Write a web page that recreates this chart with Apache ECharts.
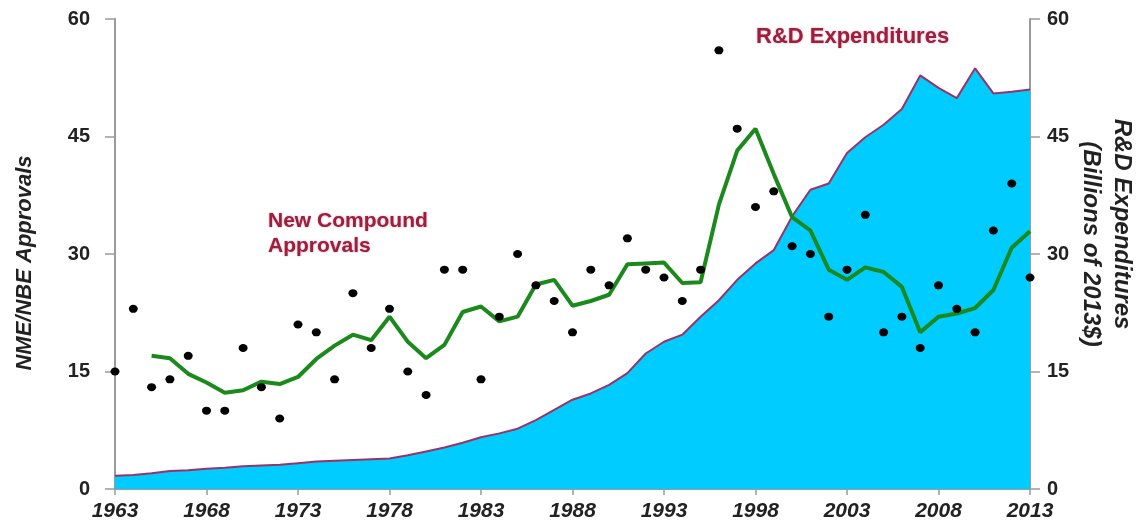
<!DOCTYPE html>
<html>
<head>
<meta charset="utf-8">
<script src="https://cdn.jsdelivr.net/npm/echarts@6/dist/echarts.min.js"></script>
<style>
html,body{margin:0;padding:0;background:#fff;}
#chart{width:1147px;height:523px;}
</style>
</head>
<body>
<div id="chart"></div>
<script>
var years = [];
for (var y = 1963; y <= 2013; y++) years.push(String(y));

var approvals = [15,23,13,14,17,10,10,18,13,9,21,20,14,25,18,23,15,12,28,28,14,22,30,26,24,20,28,26,32,28,27,24,28,56,46,36,38,31,30,22,28,35,20,22,18,26,23,20,33,39,27];

var movingAvg = [null,null,17,16.7,14.7,13.6,12.3,12.6,13.7,13.4,14.3,16.6,18.3,19.7,19,22,18.8,16.7,18.4,22.6,23.3,21.4,22,26.1,26.7,23.4,24,24.8,28.7,28.8,28.9,26.3,26.4,36.3,43.2,46,40.2,34.7,33,28,26.7,28.3,27.7,25.8,20,22,22.4,23.1,25.4,30.8,32.9];

var rdSpend = [1.7,1.8,2.0,2.3,2.4,2.6,2.7,2.9,3.0,3.1,3.3,3.5,3.6,3.7,3.8,3.9,4.3,4.8,5.3,5.9,6.6,7.1,7.7,8.8,10.1,11.4,12.2,13.3,14.8,17.3,18.8,19.7,22.0,24.1,26.7,28.8,30.5,34.8,38.2,39.0,42.9,44.9,46.5,48.5,52.8,51.2,49.9,53.7,50.5,50.7,51.0];

var FF = 'Liberation Sans, Arial, sans-serif';
var chart = echarts.init(document.getElementById('chart'));
var tickFont = {fontFamily:FF, fontWeight:'bold', fontSize:20, color:'#222'};
chart.setOption({
  animation:false,
  backgroundColor:'#fff',
  grid:{left:115,right:117,top:19,bottom:34,containLabel:false},
  xAxis:{
    type:'category', data:years, boundaryGap:false,
    axisLine:{lineStyle:{color:'#9a9a9a',width:2}},
    axisTick:{show:true,interval:4,length:6,lineStyle:{color:'#9a9a9a',width:1.5}},
    axisLabel:{interval:4,margin:12,fontStyle:'italic',fontFamily:FF,fontWeight:'bold',fontSize:21,color:'#222'},
    splitLine:{show:false}
  },
  yAxis:[
    {type:'value',min:0,max:60,interval:15,position:'left',
     axisLine:{show:true,lineStyle:{color:'#9a9a9a',width:2}},
     axisTick:{show:true,length:10,lineStyle:{color:'#9a9a9a',width:1.5}},
     axisLabel:Object.assign({margin:25},tickFont),
     splitLine:{show:false}
    },
    {type:'value',min:0,max:60,interval:15,position:'right',
     axisLine:{show:true,lineStyle:{color:'#9a9a9a',width:2}},
     axisTick:{show:true,length:10,lineStyle:{color:'#9a9a9a',width:1.5}},
     axisLabel:Object.assign({margin:17},tickFont),
     splitLine:{show:false}
    }
  ],
  series:[
    {type:'line',name:'R&D',yAxisIndex:1,data:rdSpend,symbol:'none',z:1,
     lineStyle:{color:'#993366',width:2},
     areaStyle:{color:'#00ccff',opacity:1}},
    {type:'scatter',name:'Approvals',data:approvals,symbol:'circle',symbolSize:[9,8],z:4,
     itemStyle:{color:'#000',opacity:1}},
    {type:'line',name:'Avg',data:movingAvg,symbol:'none',z:3,connectNulls:false,
     lineStyle:{color:'#1b891b',width:4}}
  ],
  graphic:[
    {type:'text',left:268,top:209,z:10,style:{text:'New Compound\nApprovals',fill:'#a11d3c',font:'bold 21px '+FF,lineHeight:25,textShadowColor:'rgba(150,60,110,0.5)',textShadowBlur:2}},
    {type:'text',left:756,top:26,z:10,style:{text:'R&D Expenditures',fill:'#a11d3c',font:'bold 22px '+FF,textShadowColor:'rgba(150,60,110,0.5)',textShadowBlur:2}},
    {type:'text',x:25,y:263,rotation:Math.PI/2,z:10,style:{text:'NME/NBE Approvals',fill:'#222',font:'italic bold 22px '+FF,align:'center',verticalAlign:'middle'}},
    {type:'text',x:1122,y:224,rotation:-Math.PI/2,z:10,style:{text:'R&D Expenditures',fill:'#222',font:'italic bold 24px '+FF,align:'center',verticalAlign:'middle'}},
    {type:'text',x:1091,y:244,rotation:-Math.PI/2,z:10,style:{text:'(Billions of 2013$)',fill:'#222',font:'italic bold 24px '+FF,align:'center',verticalAlign:'middle'}}
  ]
});
</script>
</body>
</html>
